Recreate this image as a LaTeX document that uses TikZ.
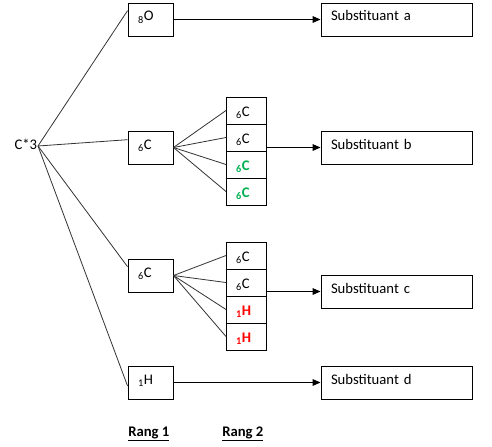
\documentclass[tikz,border=0pt]{standalone}
\usepackage{fontspec}
\setmainfont{Carlito}
\usetikzlibrary{positioning,arrows.meta,calc}

\definecolor{vert}{RGB}{0,176,80}
\definecolor{rouge}{RGB}{255,0,0}
\newcommand{\atome}[2]{\textsubscript{#1}#2}

\tikzset{
  rang1/.style={draw, line width=0.7pt, text width=18.75pt, inner xsep=7.5pt,
    inner ysep=0pt, text height=13.5pt, text depth=11.25pt, align=left},
  rang2/.style={draw, line width=0.7pt, outer sep=0pt, text width=15pt,
    inner xsep=7.5pt, inner ysep=0pt, text height=14.25pt, text depth=6pt, align=left},
  subst/.style={rang1, text width=98.25pt},
  lien/.style={line width=0.6pt, draw=black!80},
  fleche/.style={line width=0.7pt, -{Triangle[length=6pt,width=5pt]}},
}

\begin{document}
\begin{tikzpicture}[x=0.75pt, y=-0.75pt, every node/.style={font=\fontsize{11}{13}\selectfont}]
  \useasboundingbox (0,0) rectangle (492,446);

  % carbone asymetrique
  \node[anchor=mid east, inner sep=0.5pt] (c3) at (38,146) {C*3};

  % rang 1
  \node[rang1] (ro)  at (150.5,19.5)  {\atome{8}{O}};
  \node[rang1] (rcb) at (150.5,147.5) {\atome{6}{C}};
  \node[rang1] (rcc) at (150.5,275.5) {\atome{6}{C}};
  \node[rang1] (rh)  at (150.5,382.5) {\atome{1}{H}};

  % rang 2
  \node[rang2] (b1) at (246,110.5) {\atome{6}{C}};
  \node[rang2, below=0pt of b1] (b2) {\atome{6}{C}};
  \node[rang2, below=0pt of b2, text=vert] (b3) {\textbf{\atome{6}{C}}};
  \node[rang2, below=0pt of b3, text=vert] (b4) {\textbf{\atome{6}{C}}};

  \node[rang2] (c1) at (246,255.5) {\atome{6}{C}};
  \node[rang2, below=0pt of c1] (c2) {\atome{6}{C}};
  \node[rang2, below=0pt of c2, text=rouge] (c3b) {\textbf{\atome{1}{H}}};
  \node[rang2, below=0pt of c3b, text=rouge] (c4) {\textbf{\atome{1}{H}}};

  % substituants
  \node[subst] (sa) at (396.5,19.5)  {Substituant a};
  \node[subst] (sb) at (396.5,147.5) {Substituant b};
  \node[subst] (sc) at (396.5,291.5) {Substituant c};
  \node[subst] (sd) at (396.5,382.5) {Substituant d};

  % liaisons
  \draw[lien] (c3.mid east) -- ($(ro.north west)!0.24!(ro.south west)$);
  \draw[lien] (c3.mid east) -- ($(rcb.north west)!0.27!(rcb.south west)$);
  \draw[lien] (c3.mid east) -- ($(rcc.north west)!0.24!(rcc.south west)$);
  \draw[lien] (c3.mid east) -- ($(rh.north west)!0.6!(rh.south west)$);
  \foreach \k in {b1,b2,b3,b4}
    \draw[lien] (rcb.east) -- (\k.west);
  \foreach \k in {c1,c2,c3b,c4}
    \draw[lien] (rcc.east) -- (\k.west);

  % fleches
  \draw[fleche] (ro.east) -- (sa.west);
  \draw[fleche] (b2.east |- sb.west) -- (sb.west);
  \draw[fleche] (c2.east |- sc.west) -- (sc.west);
  \draw[fleche] (rh.east) -- (sd.west);

  % legende
  \node[anchor=base west, inner sep=0pt, font=\fontsize{11}{13}\selectfont\bfseries] (r1) at (128,436) {\underline{Rang 1}};
  \node[anchor=base west, inner sep=0pt, font=\fontsize{11}{13}\selectfont\bfseries] (r2) at (222,436) {\underline{Rang 2}};
\end{tikzpicture}
\end{document}
